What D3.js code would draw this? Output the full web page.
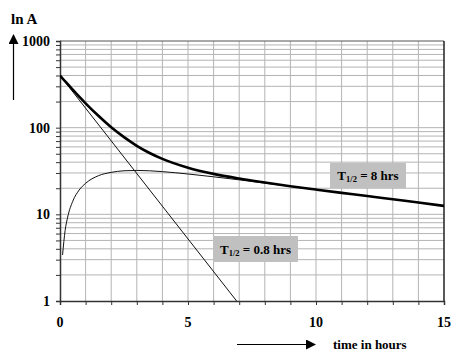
<!DOCTYPE html>
<html><head><meta charset="utf-8">
<script src="https://cdn.jsdelivr.net/npm/d3@7"></script>
<style>body{margin:0;background:#fff}svg{display:block}</style>
</head><body>
<svg id="c" width="472" height="360"></svg>
<script>
// Data
const xTicks = [0, 5, 10, 15];
const yTicks = [1, 10, 100, 1000];
// Fast decay, T1/2 = 0.8 hrs (straight line on log scale)
const fastT = [0, 6.9];
const fastA = [400, 1];
// Build-up curve (thin)
const riseT = [0.1, 0.2, 0.3, 0.5, 0.75, 1, 1.5, 2, 2.5, 3, 3.5, 4, 5, 6, 7, 8, 10, 12, 15];
const riseA = [3.4, 6.5, 9.3, 14.2, 19.1, 22.8, 27.9, 30.5, 31.8, 32.1, 31.8, 31.1, 29.2, 27.1, 25.0, 22.9, 19.3, 16.3, 12.5];
// Total activity (thick), slow component T1/2 = 8 hrs
const totT = [0, 0.25, 0.5, 0.75, 1, 1.5, 2, 2.5, 3, 3.5, 4, 5, 6, 7, 8, 9, 10, 11, 12, 13, 14, 15];
const totA = [400, 330, 274, 228, 191, 137, 101, 77.7, 61.8, 51.0, 43.6, 34.5, 29.3, 25.9, 23.3, 21.1, 19.3, 17.7, 16.3, 14.9, 13.7, 12.5];
const labels = [{t: "T", sub: "1/2", rest: " = 8 hrs"}, {t: "T", sub: "1/2", rest: " = 0.8 hrs"}];

const FONT = "'Liberation Serif', Tinos, serif";
const svg = d3.select("#c");
const L = 60, R = 444, T = 41, B = 301;
const x = d3.scaleLinear().domain([0, 15]).range([L, R]);
const y = d3.scaleLog().domain([1, 1000]).range([B, T]);
const txt = sel => sel.style("font-family", FONT).style("font-weight", "bold").style("fill", "#000");

// grid
const g = svg.append("g");
const hours = d3.range(1, 15);
g.selectAll("line.v").data(hours).join("line")
  .attr("x1", d => x(d)).attr("x2", d => x(d)).attr("y1", T).attr("y2", B)
  .attr("stroke", "#b4b4b4").attr("stroke-width", 1);
const minor = [];
[1, 10, 100].forEach(dec => { for (let k = 2; k <= 9; k++) minor.push(dec * k); });
const hLines = minor.concat([10, 100]);
g.selectAll("line.h").data(hLines).join("line")
  .attr("x1", L).attr("x2", R).attr("y1", d => y(d)).attr("y2", d => y(d))
  .attr("stroke", "#b4b4b4").attr("stroke-width", 1);

// frame
svg.append("line").attr("x1", L).attr("x2", R).attr("y1", T).attr("y2", T).attr("stroke", "#555").attr("stroke-width", 1.2);
svg.append("line").attr("x1", R).attr("x2", R).attr("y1", T).attr("y2", B).attr("stroke", "#222").attr("stroke-width", 1.5);

// axes
const yAxis = d3.axisLeft(y).tickValues(minor.concat(yTicks)).tickSize(4).tickFormat("");
svg.append("g").attr("transform", `translate(${L},0)`).call(yAxis)
  .call(a => a.select(".domain").attr("stroke", "#333").attr("stroke-width", 1.5))
  .call(a => a.selectAll(".tick line").attr("stroke", "#333"));
const xAxis = d3.axisBottom(x).tickValues(d3.range(0, 16)).tickSize(4).tickFormat("");
svg.append("g").attr("transform", `translate(0,${B})`).call(xAxis)
  .call(a => a.select(".domain").attr("stroke", "#333").attr("stroke-width", 1.5))
  .call(a => a.selectAll(".tick line").attr("stroke", "#333"));

svg.selectAll("text.yl").data(yTicks).join("text").call(txt)
  .attr("x", 50).attr("y", d => y(d) + 5).attr("text-anchor", "end")
  .style("font-size", "14px").text(d => d);
svg.selectAll("text.xl").data(xTicks).join("text").call(txt)
  .attr("x", d => x(d)).attr("y", 327).attr("text-anchor", "middle")
  .style("font-size", "14px").text(d => d);

// curves
const line = d3.line().x(d => x(d[0])).y(d => y(d[1])).curve(d3.curveMonotoneX);
svg.append("clipPath").attr("id", "pa").append("rect").attr("x", L).attr("y", T).attr("width", R - L).attr("height", B - T);
const cg = svg.append("g").attr("clip-path", "url(#pa)");
cg.append("path").datum(fastT.map((t, i) => [t, fastA[i]])).attr("d", line)
  .attr("fill", "none").attr("stroke", "#111").attr("stroke-width", 1);
cg.append("path").datum(riseT.map((t, i) => [t, riseA[i]])).attr("d", line)
  .attr("fill", "none").attr("stroke", "#111").attr("stroke-width", 1);
cg.append("path").datum(totT.map((t, i) => [t, totA[i]])).attr("d", line)
  .attr("fill", "none").attr("stroke", "#000").attr("stroke-width", 2.6);

// label boxes
const boxes = [{x: 330, y: 163, w: 76, h: 25}, {x: 213, y: 236, w: 85, h: 26}];
boxes.forEach((b, i) => {
  svg.append("rect").attr("x", b.x).attr("y", b.y).attr("width", b.w).attr("height", b.h).attr("fill", "#c0c0c0");
  const tx = svg.append("text").call(txt).attr("x", b.x + b.w / 2).attr("y", b.y + b.h / 2 + 4.5).attr("text-anchor", "middle").style("font-size", "13px");
  tx.append("tspan").text(labels[i].t);
  tx.append("tspan").style("font-size", "8.5px").attr("dy", 2).text(labels[i].sub);
  tx.append("tspan").attr("dy", -2).text(labels[i].rest);
});

// axis titles + arrows
const defs = svg.append("defs");
defs.append("marker").attr("id", "ah").attr("viewBox", "0 0 10 10").attr("refX", 9).attr("refY", 5)
  .attr("markerWidth", 10).attr("markerHeight", 10).attr("markerUnits", "userSpaceOnUse").attr("orient", "auto")
  .append("path").attr("d", "M0,0L10,5L0,10z").attr("fill", "#000");
svg.append("line").attr("x1", 13.5).attr("x2", 13.5).attr("y1", 100).attr("y2", 35)
  .attr("stroke", "#000").attr("stroke-width", 1.2).attr("marker-end", "url(#ah)");
svg.append("text").call(txt).attr("x", 11).attr("y", 24).style("font-size", "15px").text("ln A");
svg.append("line").attr("x1", 237).attr("x2", 315).attr("y1", 344.5).attr("y2", 344.5)
  .attr("stroke", "#000").attr("stroke-width", 1.2).attr("marker-end", "url(#ah)");
svg.append("text").call(txt).attr("x", 333).attr("y", 349).style("font-size", "13px").text("time in hours");
</script>
</body></html>
